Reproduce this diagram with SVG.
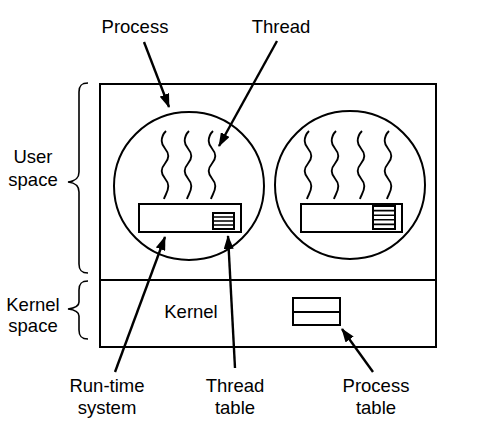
<svg xmlns="http://www.w3.org/2000/svg" width="487" height="428" viewBox="0 0 487 428">
<style>
text{font-family:"Liberation Sans",Arial,sans-serif;font-size:18.5px;fill:#000;text-anchor:middle}
.s{fill:none;stroke:#000;stroke-width:2}
.t{fill:none;stroke:#000;stroke-width:1.6}
.q{fill:none;stroke:#000;stroke-width:1.9}
.a{fill:none;stroke:#000;stroke-width:2.4;marker-end:url(#ah)}
</style>
<defs>
<marker id="ah" markerUnits="userSpaceOnUse" markerWidth="14" markerHeight="10" refX="13" refY="5" orient="auto">
<path d="M0,0 L14,5 L0,10 Z" fill="#000"/>
</marker>
<path id="w" d="M1,0 C-2,3 -3.3,6 -3.3,10 C-3.3,17 3.3,18 3.3,25 C3.3,32 -3.3,33 -3.3,40 C-3.3,47 3.3,48 3.3,55 C3.3,61 0,64 -1,68" class="q"/>
</defs>
<g id="machine">
<rect x="100" y="84" width="336" height="263" class="s"/>
<line x1="100" y1="280" x2="436" y2="280" class="s"/>
</g>
<g id="process1">
<ellipse cx="189" cy="186" rx="75" ry="74" class="s"/>
<use href="#w" x="165" y="131"/>
<use href="#w" x="188" y="131"/>
<use href="#w" x="212" y="131"/>
<rect x="139" y="204" width="102" height="28" class="s"/>
<rect x="213" y="213" width="21" height="16" class="s"/>
<path d="M213,217 H234 M213,221 H234 M213,225 H234" class="t"/>
</g>
<g id="process2">
<ellipse cx="350" cy="185" rx="75" ry="74" class="s"/>
<use href="#w" x="308" y="131"/>
<use href="#w" x="335" y="131"/>
<use href="#w" x="361" y="131"/>
<use href="#w" x="388" y="131"/>
<rect x="301" y="204" width="101" height="28" class="s"/>
<rect x="373" y="206" width="22" height="23" class="s"/>
<path d="M373,210.6 H395 M373,215.2 H395 M373,219.8 H395 M373,224.4 H395" class="t"/>
</g>
<g id="kernel">
<rect x="293" y="298" width="47" height="27" class="s"/>
<line x1="293" y1="312" x2="340" y2="312" class="s"/>
<text x="191" y="318">Kernel</text>
</g>
<g id="user-space">
<path d="M88,83 C81,83 79,86 79,92 V172 C79,178 76,181 68,182 C76,183 79,186 79,192 V264 C79,270 81,273 88,273" class="t"/>
<text x="33" y="163">User</text>
<text x="33" y="186">space</text>
</g>
<g id="kernel-space">
<path d="M88,281 C81,281 79,284 79,290 V302 C79,306 76,308 68,309 C76,310 79,312 79,316 V330 C79,336 81,339 88,339" class="t"/>
<text x="33" y="311">Kernel</text>
<text x="33" y="332">space</text>
</g>
<g id="labels">
<text x="135" y="33">Process</text>
<text x="281" y="33">Thread</text>
<text x="107" y="392">Run-time</text>
<text x="107" y="414">system</text>
<text x="235" y="392">Thread</text>
<text x="235" y="414">table</text>
<text x="376" y="392">Process</text>
<text x="376" y="414">table</text>
</g>
<g id="connectors">
<path d="M144,42 L169,107" class="a"/>
<path d="M277,41 L219,146" class="a"/>
<path d="M115,372 L165,237" class="a"/>
<path d="M235,368 L228,236" class="a"/>
<path d="M373,372 L342,329" class="a"/>
</g>
</svg>
